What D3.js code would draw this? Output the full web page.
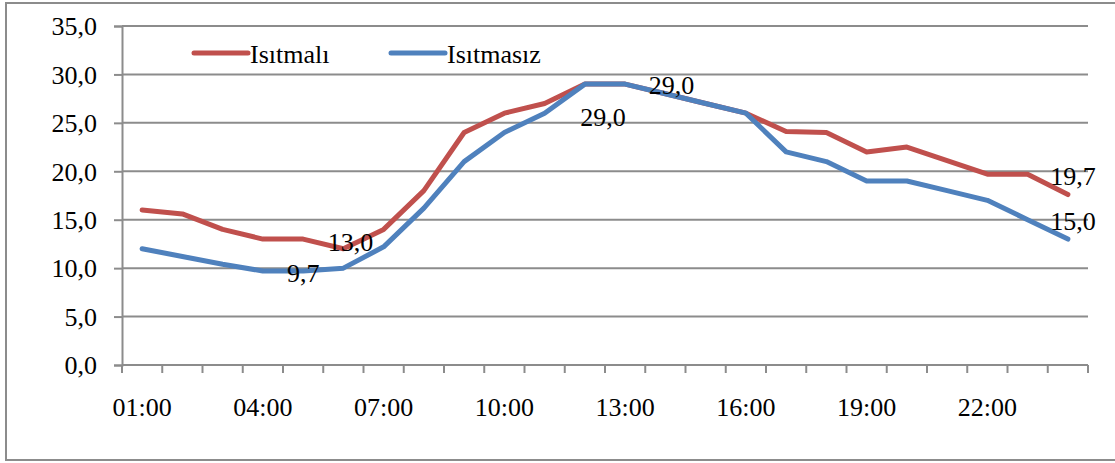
<!DOCTYPE html>
<html>
<head>
<meta charset="utf-8">
<script src="https://cdn.jsdelivr.net/npm/d3@7"></script>
<style>
  html, body { margin: 0; padding: 0; background: #fff; }
  svg { display: block; }
  text { font-family: "Liberation Serif", "Times New Roman", serif; fill: #000; }
</style>
</head>
<body>
<svg id="chart" width="1115" height="463"></svg>
<script>
// ---- data ----
const hours = ["01:00","02:00","03:00","04:00","05:00","06:00","07:00","08:00","09:00","10:00","11:00","12:00",
               "13:00","14:00","15:00","16:00","17:00","18:00","19:00","20:00","21:00","22:00","23:00","24:00"];
const seriesNames = ["Isıtmalı", "Isıtmasız"];
const isitmali  = [16.0, 15.6, 14.0, 13.0, 13.0, 12.0, 14.0, 18.0, 24.0, 26.0, 27.0, 29.0,
                   29.0, 28.0, 27.0, 26.0, 24.1, 24.0, 22.0, 22.5, 21.1, 19.7, 19.7, 17.6];
const isitmasiz = [12.0, 11.2, 10.4, 9.7, 9.7, 10.0, 12.2, 16.2, 21.0, 24.0, 26.0, 29.0,
                   29.0, 28.0, 27.0, 26.0, 22.0, 21.0, 19.0, 19.0, 18.0, 17.0, 15.0, 13.0];
const xTickLabels = ["01:00","04:00","07:00","10:00","13:00","16:00","19:00","22:00"];
const yTicks = [0, 5, 10, 15, 20, 25, 30, 35];
// data labels: series index, point index, text
const labelSeries = [0, 1, 0, 1, 0, 1];
const labelPoint  = [5, 4, 11, 13, 23, 23];
const labelText   = ["13,0", "9,7", "29,0", "29,0", "19,7", "15,0"];

// ---- layout ----
const svg = d3.select("#chart");
const mLeft = 122, mRight = 1088, mTop = 26, mBottom = 365;
const colors = ["#C0504D", "#4F81BD"];
const gridColor = "#8C8C8C";
const fontSize = 26;

// outer frame
svg.append("rect").attr("x", 6).attr("y", 3).attr("width", 1130).attr("height", 457)
  .attr("fill", "none").attr("stroke", "#8C8C8C").attr("stroke-width", 2);

const x = d3.scaleBand().domain(hours).range([mLeft, mRight]).paddingInner(0).paddingOuter(0);
const y = d3.scaleLinear().domain([0, 35]).range([mBottom, mTop]);

// gridlines
svg.append("g").selectAll("line").data(yTicks.filter(d => d > 0)).join("line")
  .attr("x1", mLeft).attr("x2", mRight)
  .attr("y1", d => y(d)).attr("y2", d => y(d))
  .attr("stroke", gridColor).attr("stroke-width", 2);

// y axis
const yAxis = svg.append("g").attr("transform", `translate(${mLeft},0)`)
  .call(d3.axisLeft(y).tickValues(yTicks).tickSize(8).tickPadding(17)
        .tickFormat(d => d.toFixed(1).replace(".", ",")));
yAxis.select(".domain").attr("stroke", gridColor).attr("stroke-width", 2);
yAxis.selectAll(".tick line").attr("stroke", gridColor).attr("stroke-width", 2);
yAxis.selectAll("text").style("font-family", "Liberation Serif").style("font-size", fontSize + "px")
  .attr("fill", "#000").attr("dy", "0.34em");

// x axis line and ticks at band boundaries
const bounds = hours.map(h => x(h)).concat([x.range()[1]]);
svg.append("line").attr("x1", mLeft).attr("x2", mRight).attr("y1", mBottom).attr("y2", mBottom)
  .attr("stroke", gridColor).attr("stroke-width", 2);
svg.append("g").selectAll("line").data(bounds).join("line")
  .attr("x1", d => d).attr("x2", d => d).attr("y1", mBottom).attr("y2", mBottom + 8)
  .attr("stroke", gridColor).attr("stroke-width", 2);

// x labels
const xAxis = svg.append("g").attr("transform", `translate(0,${mBottom})`)
  .call(d3.axisBottom(x).tickValues(xTickLabels).tickSize(0).tickPadding(33));
xAxis.select(".domain").remove();
xAxis.selectAll("text").style("font-family", "Liberation Serif").style("font-size", fontSize + "px")
  .attr("fill", "#000");

// lines
const allSeries = [isitmali, isitmasiz];
const line = d3.line().x((d, i) => x(hours[i]) + x.bandwidth() / 2).y(d => y(d));
allSeries.forEach((s, k) => {
  svg.append("path").datum(s).attr("d", line)
    .attr("fill", "none").attr("stroke", colors[k]).attr("stroke-width", 5)
    .attr("stroke-linejoin", "round").attr("stroke-linecap", "round");
});

// data labels
const labelOffsets = [[7, 2], [0, 11], [18, 42], [6, 0], [5, -9.5], [5, -9]];
labelText.forEach((t, j) => {
  const s = allSeries[labelSeries[j]];
  const i = labelPoint[j];
  svg.append("text")
    .attr("x", x(hours[i]) + x.bandwidth() / 2 + labelOffsets[j][0])
    .attr("y", y(s[i]) + labelOffsets[j][1])
    .attr("text-anchor", "middle")
    .style("font-size", fontSize + "px")
    .text(t);
});

// legend
const legendX = [194, 391];
seriesNames.forEach((n, k) => {
  const g = svg.append("g").attr("transform", `translate(${legendX[k]},53)`);
  g.append("line").attr("x1", 0).attr("x2", 54).attr("y1", 0).attr("y2", 0)
    .attr("stroke", colors[k]).attr("stroke-width", 5).attr("stroke-linecap", "round");
  g.append("text").attr("x", 56).attr("y", 10).style("font-size", fontSize + "px").text(n);
});
</script>
</body>
</html>
